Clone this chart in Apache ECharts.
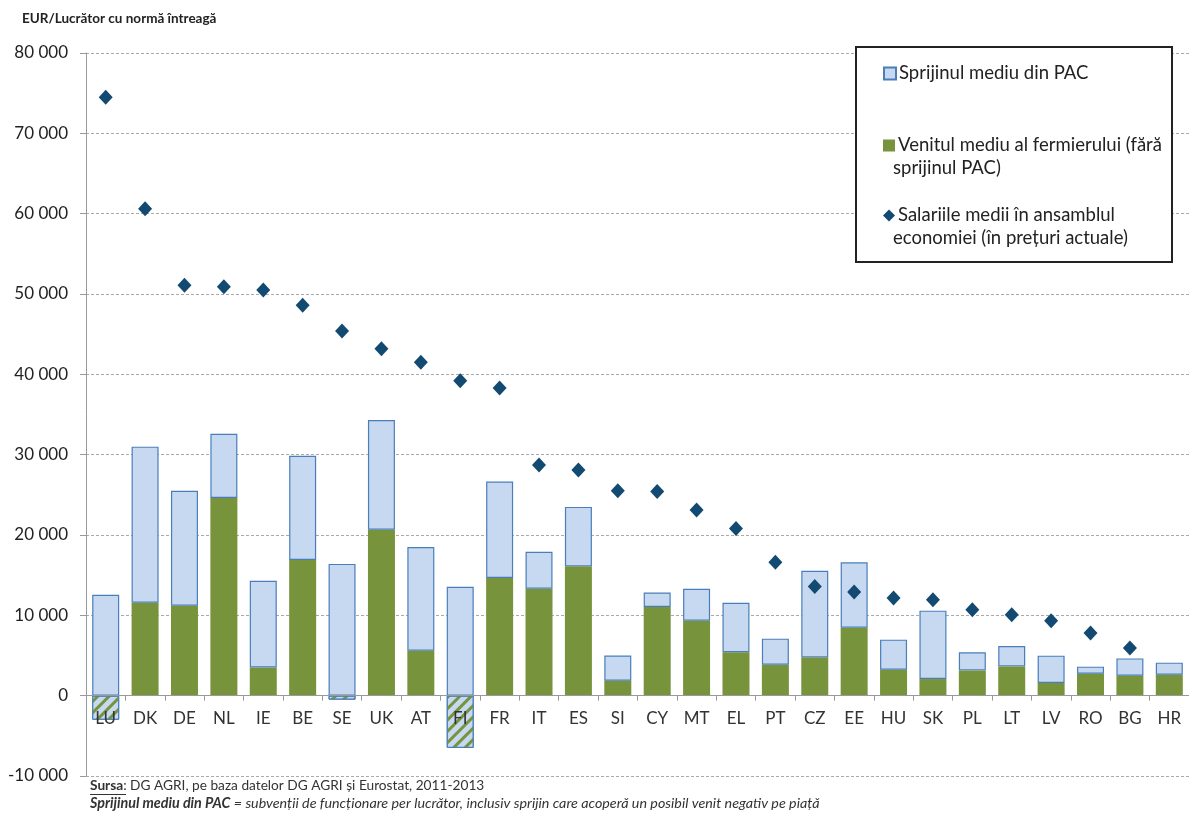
<!DOCTYPE html>
<html>
<head>
<meta charset="utf-8">
<script src="https://cdn.jsdelivr.net/npm/echarts@6/dist/echarts.min.js"></script>
<style>
  html, body { margin: 0; padding: 0; background: #fff; }
  #chart { width: 1189px; height: 816px; }
</style>
</head>
<body>
<div id="chart"></div>
<script>
// tari
const categories = ['LU','DK','DE','NL','IE','BE','SE','UK','AT','FI','FR','IT','ES','SI','CY','MT','EL','PT','CZ','EE','HU','SK','PL','LT','LV','RO','BG','HR'];
// venitul fermierului fara PAC (verde, negativ = hasurat)
const income = [-3000, 11570, 11200, 24600, 3500, 16900, -500, 20650, 5600, -6500, 14650, 13300, 16100, 1870, 11050, 9330, 5400, 3850, 4770, 8460, 3230, 2070, 3150, 3650, 1580, 2740, 2490, 2610];
// sprijinul PAC (partea albastra de deasupra)
const capSupport = [12560, 19430, 14300, 8000, 10800, 12950, 16400, 13650, 12900, 13560, 12000, 4600, 7400, 3130, 1800, 3970, 6160, 3250, 10780, 8140, 3740, 8510, 2240, 2530, 3400, 870, 2150, 1500];
// salariile medii
const wages = [74500, 60600, 51100, 50900, 50500, 48600, 45400, 43200, 41500, 39200, 38300, 28700, 28100, 25500, 25400, 23100, 20800, 16600, 13600, 12900, 12150, 11940, 10700, 10080, 9330, 7800, 5930, null];
const yTicks = { min: -10000, max: 80000, step: 10000 };

const FONT = 'Lato';
const blue = '#c6d9f1', blueBorder = '#4a7ebb', green = '#77933c', navy = '#124a72';

function fmt(v) {
  const s = String(Math.abs(v)).replace(/\B(?=(\d{3})+(?!\d))/g, ' ');
  return v < 0 ? '-' + s : s;
}

const hatch = {
  color: blue,
  borderColor: blueBorder,
  borderWidth: 1,
  decal: {
    symbol: 'rect',
    symbolSize: 1,
    dashArrayX: [1, 0],
    dashArrayY: [2.5, 4.5],
    rotation: -Math.PI / 4,
    color: green
  }
};

const incomeData = income.map(v => v < 0 ? { value: v, itemStyle: hatch } : v);

const gridTop = 53, gridH = 723;
// axa x pe linia lui 0: distanta de la baza grilei
const zeroOffset = -gridH * (0 - yTicks.min) / (yTicks.max - yTicks.min);

const legendText = { fontSize: 18.5, color: '#222', fontFamily: FONT, padding: [0, 0, 0, -2] };

const chart = echarts.init(document.getElementById('chart'));
chart.setOption({
  animation: false,
  textStyle: { fontFamily: FONT },
  title: {
    text: 'EUR/Lucrător cu normă întreagă',
    left: 17, top: 7,
    textStyle: { fontSize: 13.5, fontWeight: 'bold', color: '#222', fontFamily: FONT }
  },
  grid: { left: 86, top: gridTop, width: 1109, height: gridH },
  legend: [
    {
      data: ['Sprijinul mediu din PAC'], left: 878, top: 59, z: 20, selectedMode: false,
      icon: 'rect', itemWidth: 12, itemHeight: 12, textStyle: legendText
    },
    {
      data: ['Venitul mediu al fermierului (fără sprijinul PAC)'], left: 878, top: 131, z: 20, selectedMode: false,
      icon: 'rect', itemWidth: 12, itemHeight: 12,
      formatter: () => 'Venitul mediu al fermierului (fără',
      textStyle: legendText
    },
    {
      data: ['Salariile medii în ansamblul economiei (în prețuri actuale)'], left: 878, top: 201, z: 20, selectedMode: false,
      itemWidth: 12, itemHeight: 12,
      formatter: () => 'Salariile medii în ansamblul',
      textStyle: legendText
    }
  ],
  graphic: [
    { type: 'rect', z: 1, shape: { x: 856, y: 47, width: 316, height: 215 },
      style: { fill: '#fff', stroke: '#222', lineWidth: 2 } },
    { type: 'text', z: 10, left: 893, top: 159,
      style: { text: 'sprijinul PAC)', font: '18.5px ' + FONT, fill: '#222' } },
    { type: 'text', z: 10, left: 893, top: 229,
      style: { text: 'economiei (în prețuri actuale)', font: '18.5px ' + FONT, fill: '#222' } },
    { type: 'text', left: 90, top: 779,
      style: {
        text: '{b|Sursa}: DG AGRI, pe baza datelor DG AGRI și Eurostat, 2011-2013',
        font: '13.7px ' + FONT, fill: '#333',
        rich: { b: { fontWeight: 'bold', fontSize: 13.7, fontFamily: FONT, fill: '#333' } }
      } },
    { type: 'line', shape: { x1: 90, y1: 794.5, x2: 126, y2: 794.5 }, style: { stroke: '#333', lineWidth: 1 } },
    { type: 'text', left: 90, top: 796,
      style: {
        text: '{b|Sprijinul mediu din PAC} = subvenții de funcționare per lucrător, inclusiv sprijin care acoperă un posibil venit negativ pe piață',
        font: 'italic 14.3px ' + FONT, fill: '#333',
        rich: { b: { fontWeight: 'bold', fontStyle: 'italic', fontSize: 14.3, fontFamily: FONT, fill: '#333' } }
      } }
  ],
  xAxis: {
    type: 'category',
    data: categories,
    offset: zeroOffset,
    z: 10,
    axisLine: { onZero: false, lineStyle: { color: '#999', width: 1 } },
    axisTick: { show: true, length: 5, lineStyle: { color: '#999' } },
    axisLabel: { fontSize: 17, color: '#333', margin: 14, fontFamily: FONT },
    splitLine: { show: false }
  },
  yAxis: {
    type: 'value',
    min: yTicks.min, max: yTicks.max, interval: yTicks.step,
    axisLine: { show: true, lineStyle: { color: '#999' } },
    axisTick: { show: true, length: 6, lineStyle: { color: '#999' } },
    axisLabel: { fontSize: 17, color: '#222', margin: 18, fontFamily: FONT, formatter: fmt },
    splitLine: { show: true, lineStyle: { color: '#aaa', type: [3, 2], width: 1 } }
  },
  series: [
    {
      name: 'Venitul mediu al fermierului (fără sprijinul PAC)',
      type: 'bar', stack: 'a', barWidth: 27,
      itemStyle: { color: green, borderColor: green, borderWidth: 0 },
      data: incomeData
    },
    {
      name: 'Sprijinul mediu din PAC',
      type: 'bar', stack: 'a', barWidth: 27,
      itemStyle: { color: blue, borderColor: blueBorder, borderWidth: 1.2 },
      data: capSupport
    },
    {
      name: 'Salariile medii în ansamblul economiei (în prețuri actuale)',
      type: 'scatter', symbol: 'diamond', symbolSize: [14, 15], z: 5,
      itemStyle: { color: navy, opacity: 1 },
      data: wages.map(v => v == null ? '-' : v)
    }
  ]
});
</script>
</body>
</html>
